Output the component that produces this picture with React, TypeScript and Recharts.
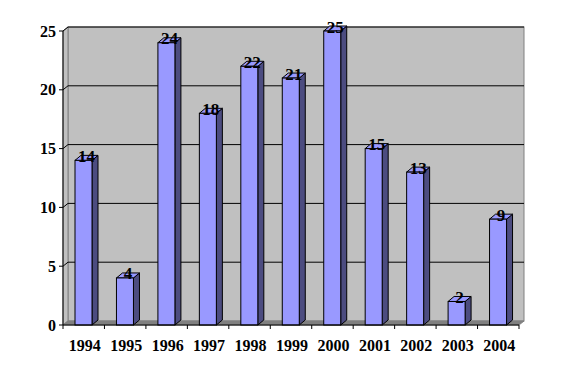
import { BarChart, Bar, XAxis, YAxis, ReferenceArea, LabelList } from 'recharts'

const years = ['1994', '1995', '1996', '1997', '1998', '1999', '2000', '2001', '2002', '2003', '2004']
const counts = [14, 4, 24, 18, 22, 21, 25, 15, 13, 2, 9]
const yTicks = [0, 5, 10, 15, 20, 25]

const data = years.map((year, i) => ({ year, count: counts[i] }))

const FONT = "'Liberation Serif', 'Times New Roman', serif"
// depth of the walls and of the bars
const WDX = 5
const WDY = 4
const BDX = 6
const BDY = 5

function Walls(props: any) {
  const { x, y, width, height } = props
  const yMax = yTicks[yTicks.length - 1]
  const bottom = y + height
  const n = years.length
  return (
    <g>
      <rect x={x + WDX} y={y - WDY} width={width} height={height} fill="#c0c0c0" stroke="#808080" />
      <polygon
        points={`${x},${y} ${x + WDX},${y - WDY} ${x + WDX},${bottom - WDY} ${x},${bottom}`}
        fill="#c0c0c0"
        stroke="#808080"
      />
      {yTicks.slice(1).map((v) => {
        const yy = bottom - (v / yMax) * height
        return (
          <g key={v}>
            <line x1={x + WDX} y1={yy - WDY} x2={x + width + WDX} y2={yy - WDY} stroke="#000" />
            <line x1={x} y1={yy} x2={x + WDX} y2={yy - WDY} stroke="#000" />
          </g>
        )
      })}
      <polygon
        points={`${x},${bottom} ${x + WDX},${bottom - WDY} ${x + width + WDX},${bottom - WDY} ${x + width},${bottom}`}
        fill="#808080"
        stroke="#808080"
      />
      {Array.from({ length: n + 1 }, (_, i) => {
        const xx = x + (i * width) / n
        return <line key={i} x1={xx} y1={bottom} x2={xx} y2={bottom + 4} stroke="#000" />
      })}
    </g>
  )
}

function Bar3D(props: any) {
  const { x, y, width, height } = props
  if (height == null || height <= 0) return null
  const r = x + width
  const b = y + height
  return (
    <g stroke="#000" strokeWidth={1}>
      <polygon points={`${r},${y} ${r + BDX},${y - BDY} ${r + BDX},${b - BDY} ${r},${b}`} fill="#4c4c80" />
      <polygon points={`${x},${y} ${x + BDX},${y - BDY} ${r + BDX},${y - BDY} ${r},${y}`} fill="#9999ff" />
      <rect x={x} y={y} width={width} height={height} fill="#9999ff" />
    </g>
  )
}

function ValueLabel(props: any) {
  const { x, y, width, value } = props
  return (
    <text
      x={x + width / 2 + 3}
      y={y + 1.5}
      textAnchor="middle"
      style={{ fontFamily: FONT, fontWeight: 'bold', fontSize: 17 }}
      fill="#000"
    >
      {value}
    </text>
  )
}

function YearTick(props: any) {
  const { x, y, payload } = props
  return (
    <text
      x={x + 1}
      y={y + 24}
      textAnchor="middle"
      style={{ fontFamily: FONT, fontWeight: 'bold', fontSize: 16 }}
      fill="#000"
    >
      {payload.value}
    </text>
  )
}

export default function App() {
  return (
    <div
      style={{ position: 'absolute', left: 0, top: 0, width: 563, height: 376, background: '#fff', fontFamily: FONT }}
    >
      <BarChart width={563} height={376} data={data} margin={{ top: 31, right: 44, bottom: 21, left: 0 }}>
        <ReferenceArea y1={0} y2={25} shape={<Walls />} />
        <XAxis
          dataKey="year"
          tickLine={false}
          tickSize={0}
          height={30}
          axisLine={{ stroke: '#000' }}
          tick={<YearTick />}
          interval={0}
        />
        <YAxis
          width={63}
          domain={[0, 25]}
          ticks={yTicks}
          interval={0}
          tickSize={4}
          tickMargin={3}
          axisLine={{ stroke: '#000' }}
          tickLine={{ stroke: '#000' }}
          tick={{ fontSize: 16, fontWeight: 'bold', fill: '#000', style: { fontFamily: FONT } }}
        />
        <Bar dataKey="count" barSize={17} shape={<Bar3D />} isAnimationActive={false}>
          <LabelList dataKey="count" content={<ValueLabel />} />
        </Bar>
      </BarChart>
    </div>
  )
}
